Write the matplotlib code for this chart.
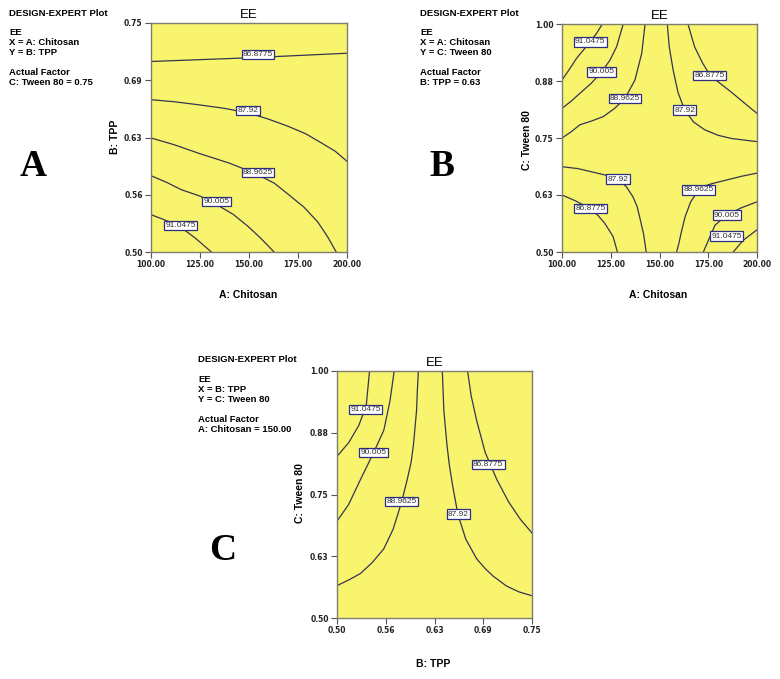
import matplotlib
matplotlib.use("Agg")
import matplotlib.pyplot as plt

# ---- panel A : x = A: Chitosan, y = B: TPP  (C = 0.75)
a_levels = ["86.8775", "87.92", "88.9625", "90.005", "91.0475"]
a_xs = [
    [100, 125, 150, 175, 200],
    [100, 112, 124, 137, 150, 160, 170, 179, 187, 194, 200],
    [100, 112, 124, 140, 153, 163, 170, 178, 185, 190, 194.5],
    [100, 108, 115.5, 125, 133.3, 142, 149.5, 156, 162.8],
    [100, 107, 114.6, 122.7, 130.8],
]
a_ys = [
    [0.708, 0.710, 0.712, 0.7145, 0.717],
    [0.6663, 0.664, 0.6608, 0.657, 0.6517, 0.645, 0.6372, 0.629, 0.619, 0.61, 0.599],
    [0.6245, 0.617, 0.608, 0.597, 0.586, 0.575, 0.563, 0.549, 0.533, 0.517, 0.50],
    [0.5833, 0.576, 0.568, 0.561, 0.552, 0.541, 0.528, 0.515, 0.50],
    [0.5408, 0.535, 0.528, 0.515, 0.50],
]
a_lab_x = [154.6, 149.5, 154.6, 133.3, 115.0]
a_lab_y = [0.7158, 0.6547, 0.587, 0.5553, 0.529]
a_lab_t = a_levels

# ---- panel B : x = A: Chitosan, y = C: Tween 80  (B = 0.63)
b_xs = [
    [120.7, 117.8, 114.4, 111, 107.5, 104, 100],
    [131.4, 128, 124.5, 120.3, 115, 109.2, 104.5, 100],
    [142.6, 140.9, 137.4, 132.3, 127, 121.2, 115, 109.2, 104.5, 100],
    [154, 155, 157, 159.5, 162.9, 167.5, 173.2, 180, 186.8, 200],
    [164.6, 168, 172, 176, 181, 187, 194, 200],
    [100, 108, 115, 122, 128.7, 133, 136.4, 138.5, 139.8, 141.8, 143.2],
    [100, 107, 114.5, 118.5, 121.9, 126.2, 128.4],
    [158.8, 160, 161, 163.1, 166, 170, 174, 177, 184.5, 192, 200],
    [172.5, 175.5, 178.5, 184.5, 192, 200],
    [187.8, 193, 199.8],
]
b_ys = [
    [1.0, 0.98, 0.961, 0.943, 0.925, 0.902, 0.877],
    [1.0, 0.95, 0.92, 0.895, 0.87, 0.848, 0.83, 0.815],
    [1.0, 0.936, 0.877, 0.837, 0.815, 0.797, 0.787, 0.779, 0.763, 0.75],
    [1.0, 0.95, 0.899, 0.85, 0.811, 0.785, 0.768, 0.756, 0.749, 0.742],
    [1.0, 0.95, 0.915, 0.887, 0.87, 0.85, 0.825, 0.804],
    [0.687, 0.683, 0.676, 0.669, 0.66, 0.643, 0.621, 0.6, 0.577, 0.54, 0.5],
    [0.625, 0.612, 0.595, 0.58, 0.563, 0.534, 0.5],
    [0.5, 0.52, 0.54, 0.577, 0.61, 0.636, 0.646, 0.65, 0.658, 0.666, 0.673],
    [0.5, 0.53, 0.559, 0.581, 0.597, 0.61],
    [0.5, 0.526, 0.548],
]
b_lab_x = [114.4, 120.3, 132.3, 162.9, 175.7, 128.7, 114.5, 169.9, 184.5, 184.5]
b_lab_y = [0.961, 0.895, 0.837, 0.811, 0.887, 0.66, 0.595, 0.636, 0.581, 0.535]
b_lab_t = ["91.0475", "90.005", "88.9625", "87.92", "86.8775",
           "87.92", "86.8775", "88.9625", "90.005", "91.0475"]

# ---- panel C : x = B: TPP, y = C: Tween 80  (A = 150)
c_xs = [
    [0.5417, 0.5375, 0.528, 0.515, 0.5],
    [0.5733, 0.568, 0.56, 0.547, 0.53, 0.515, 0.5],
    [0.6043, 0.603, 0.602, 0.598, 0.595, 0.59, 0.583, 0.578, 0.572, 0.566,
     0.56, 0.545, 0.53, 0.515, 0.5],
    [0.635, 0.636, 0.637, 0.641, 0.644, 0.648, 0.655, 0.665, 0.679, 0.69,
     0.7, 0.717, 0.733, 0.75],
    [0.6674, 0.672, 0.679, 0.69, 0.705, 0.72, 0.735, 0.75],
]
c_ys = [
    [1.0, 0.93, 0.89, 0.855, 0.827],
    [1.0, 0.94, 0.88, 0.835, 0.78, 0.73, 0.696],
    [1.0, 0.96, 0.92, 0.85, 0.815, 0.78, 0.736, 0.71, 0.68, 0.66,
     0.64, 0.612, 0.59, 0.577, 0.5655],
    [1.0, 0.96, 0.92, 0.85, 0.81, 0.77, 0.71, 0.66, 0.62, 0.6,
     0.585, 0.565, 0.553, 0.545],
    [1.0, 0.95, 0.90, 0.835, 0.78, 0.735, 0.70, 0.672],
]
c_lab_x = [0.537, 0.5468, 0.583, 0.6554, 0.6938]
c_lab_y = [0.9217, 0.8354, 0.736, 0.7105, 0.8104]
c_lab_t = ["91.0475", "90.005", "88.9625", "87.92", "86.8775"]

chit_ticks = [100, 125, 150, 175, 200]
chit_labels = ["100.00", "125.00", "150.00", "175.00", "200.00"]
tpp_ticks = [0.5, 0.5625, 0.625, 0.6875, 0.75]
tpp_labels = ["0.50", "0.56", "0.63", "0.69", "0.75"]
tw_ticks = [0.5, 0.625, 0.75, 0.875, 1.0]
tw_labels = ["0.50", "0.63", "0.75", "0.88", "1.00"]

W, H = 780, 679
fig = plt.figure(figsize=(7.8, 6.79), dpi=100)
FONT = "Liberation Sans"
YEL = "#F9F46E"
LINE = "#35354f"


def px_text(x, y, s, **kw):
    fig.text(x / W, 1 - y / H, s, **kw)


def panel(box, xs, ys, lx, ly, lt, xt, xl, yt, yl, xlab, ylab, xlp, ylp):
    l, t, r, b = box
    ax = fig.add_axes([l / W, 1 - b / H, (r - l) / W, (b - t) / H])
    ax.set_facecolor(YEL)
    for x, y in zip(xs, ys):
        ax.plot(x, y, color=LINE, lw=0.9, zorder=2)
    for x, y, s in zip(lx, ly, lt):
        ax.text(x, y, s, fontsize=6, family=FONT, color="#333333",
                ha="center", va="center", zorder=4,
                bbox=dict(boxstyle="square,pad=0.15", fc="white",
                          ec="#2e2e80", lw=0.9))
    ax.set_xlim(xt[0], xt[-1])
    ax.set_ylim(yt[0], yt[-1])
    ax.set_xticks(xt)
    ax.set_xticklabels(xl)
    ax.set_yticks(yt)
    ax.set_yticklabels(yl)
    ax.tick_params(length=4, width=0.8, color="#555555", pad=2,
                   labelsize=5.5, labelcolor="#222222")
    for lab in ax.get_xticklabels() + ax.get_yticklabels():
        lab.set_fontweight("bold")
    for sp in ax.spines.values():
        sp.set_color("#7d7d70")
        sp.set_linewidth(1.0)
    px_text((l + r) / 2, t - 8, "EE", fontsize=9.5, family=FONT,
            ha="center", va="center")
    px_text(xlp[0], xlp[1], xlab, fontsize=7.5, family=FONT,
            fontweight="bold", ha="center", va="center")
    px_text(ylp[0], ylp[1], ylab, fontsize=7.5, family=FONT,
            fontweight="bold", ha="center", va="center", rotation=90)
    return ax


def info(x, y0, lines):
    offs = [0, 19.5, 29.5, 39.5, 59.5, 69.5]
    for dy, s in zip(offs, lines):
        px_text(x, y0 + dy, s, fontsize=6.8, family=FONT, fontweight="bold",
                ha="left", va="center")


panel((151, 23, 347, 252), a_xs, a_ys, a_lab_x, a_lab_y, a_lab_t,
      chit_ticks, chit_labels, tpp_ticks, tpp_labels,
      "A: Chitosan", "B: TPP", (248, 295), (115, 137))
panel((562, 24, 757, 252), b_xs, b_ys, b_lab_x, b_lab_y, b_lab_t,
      chit_ticks, chit_labels, tw_ticks, tw_labels,
      "A: Chitosan", "C: Tween 80", (658, 295), (527, 140))
panel((337, 371, 532, 618), c_xs, c_ys, c_lab_x, c_lab_y, c_lab_t,
      tpp_ticks, tpp_labels, tw_ticks, tw_labels,
      "B: TPP", "C: Tween 80", (433, 664), (300, 493))

info(9, 13, ["DESIGN-EXPERT Plot", "EE", "X = A: Chitosan", "Y = B: TPP",
             "Actual Factor", "C: Tween 80 = 0.75"])
info(420, 13, ["DESIGN-EXPERT Plot", "EE", "X = A: Chitosan", "Y = C: Tween 80",
               "Actual Factor", "B: TPP = 0.63"])
info(198, 359.5, ["DESIGN-EXPERT Plot", "EE", "X = B: TPP", "Y = C: Tween 80",
                  "Actual Factor", "A: Chitosan = 150.00"])

for (x, y), s in zip([(33, 166), (442, 166), (223, 550)], ["A", "B", "C"]):
    px_text(x, y, s, fontsize=27, family="Liberation Serif", fontweight="bold",
            ha="center", va="center")

fig.savefig("out.png", dpi=100, facecolor="white")
